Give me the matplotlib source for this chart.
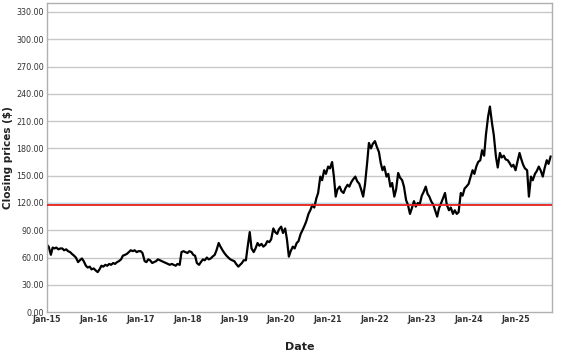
import matplotlib
import matplotlib.pyplot as plt
import matplotlib.dates as mdates
import pandas as pd
matplotlib.use('Agg')

# semi-monthly closing prices (1st and 15th of each month)
prices_2015 = [74, 72, 63, 71, 70, 71, 69, 70, 70, 68, 69, 67, 66, 64, 62, 60, 55, 57, 59, 56, 51, 49, 50, 47]
prices_2016 = [48, 46, 44, 47, 51, 50, 52, 51, 53, 52, 54, 53, 55, 56, 58, 62, 63, 64, 66, 68, 67, 68, 66, 67]
prices_2017 = [67, 65, 56, 55, 58, 57, 54, 55, 56, 58, 57, 56, 55, 54, 53, 52, 53, 52, 51, 53, 52, 66, 67, 66]
prices_2018 = [65, 67, 66, 63, 62, 54, 52, 55, 58, 57, 60, 58, 59, 61, 63, 68, 76, 72, 68, 65, 62, 60, 58, 57]
prices_2019 = [56, 53, 50, 52, 54, 57, 57, 72, 88, 70, 66, 70, 76, 73, 75, 72, 74, 78, 77, 80, 92, 88, 86, 91]
prices_2020 = [94, 87, 92, 80, 61, 67, 72, 70, 76, 78, 86, 90, 95, 100, 108, 112, 118, 115, 125, 131, 149, 145, 156, 152]
prices_2021 = [160, 158, 165, 149, 127, 135, 138, 133, 131, 136, 140, 138, 143, 146, 149, 144, 141, 135, 127, 140, 164, 186, 180, 185]
prices_2022 = [188, 182, 176, 164, 156, 160, 149, 152, 138, 142, 127, 135, 153, 148, 145, 138, 123, 118, 108, 114, 122, 116, 120, 118]
prices_2023 = [128, 132, 138, 130, 127, 122, 118, 112, 105, 114, 120, 125, 131, 118, 112, 115, 108, 112, 108, 110, 131, 128, 136, 138]
prices_2024 = [141, 148, 156, 152, 160, 165, 167, 178, 172, 195, 215, 226, 208, 195, 171, 159, 175, 170, 172, 168, 167, 164, 160, 162]
prices_2025 = [156, 165, 175, 168, 162, 158, 156, 127, 149, 145, 152, 155, 160, 156, 149, 158, 167, 163, 171]

reference_price = 117.5

prices = (prices_2015 + prices_2016 + prices_2017 + prices_2018 + prices_2019 + prices_2020
          + prices_2021 + prices_2022 + prices_2023 + prices_2024 + prices_2025)
dates = []
for year in range(2015, 2026):
    for month in range(1, 13):
        dates.append(pd.Timestamp(year, month, 1))
        dates.append(pd.Timestamp(year, month, 15))
dates = dates[:len(prices)]

fig = plt.figure(figsize=(5.65, 3.6), dpi=100)
ax = fig.add_axes([0.083, 0.133, 0.894, 0.859])

for v in range(30, 331, 30):
    ax.axhline(v, color='#c8c8c8', linewidth=1, zorder=0)
ax.axhline(120, color='#b8dce8', linewidth=1, zorder=0)
ax.axhline(reference_price, color='#e8201c', linewidth=1.3, zorder=3)

ax.plot(dates, prices, color='black', linewidth=1.6, zorder=2)

ax.set_ylim(0, 340)
ax.set_yticks(range(0, 331, 30))
ax.yaxis.set_major_formatter(matplotlib.ticker.FormatStrFormatter('%.2f'))
ax.set_xlim(pd.Timestamp(2015, 1, 1), pd.Timestamp(2025, 10, 12))
ax.xaxis.set_major_locator(mdates.YearLocator())
ax.xaxis.set_major_formatter(mdates.DateFormatter('%b-%y'))

ax.tick_params(axis='both', length=0, labelsize=5.8, colors='#333333', pad=2)
for lab in ax.get_xticklabels():
    lab.set_fontweight('bold')
for s in ax.spines.values():
    s.set_color('#b0b0b0')
    s.set_linewidth(1)

ax.set_ylabel("Closing prices ($)", fontsize=7.5, fontweight='bold', color='#222222')
ax.yaxis.set_label_coords(-0.068, 0.5)
fig.text(0.53, 0.028, "Date", fontsize=8, fontweight='bold', color='#222222', ha='center')

plt.savefig("out.png")
plt.close()
